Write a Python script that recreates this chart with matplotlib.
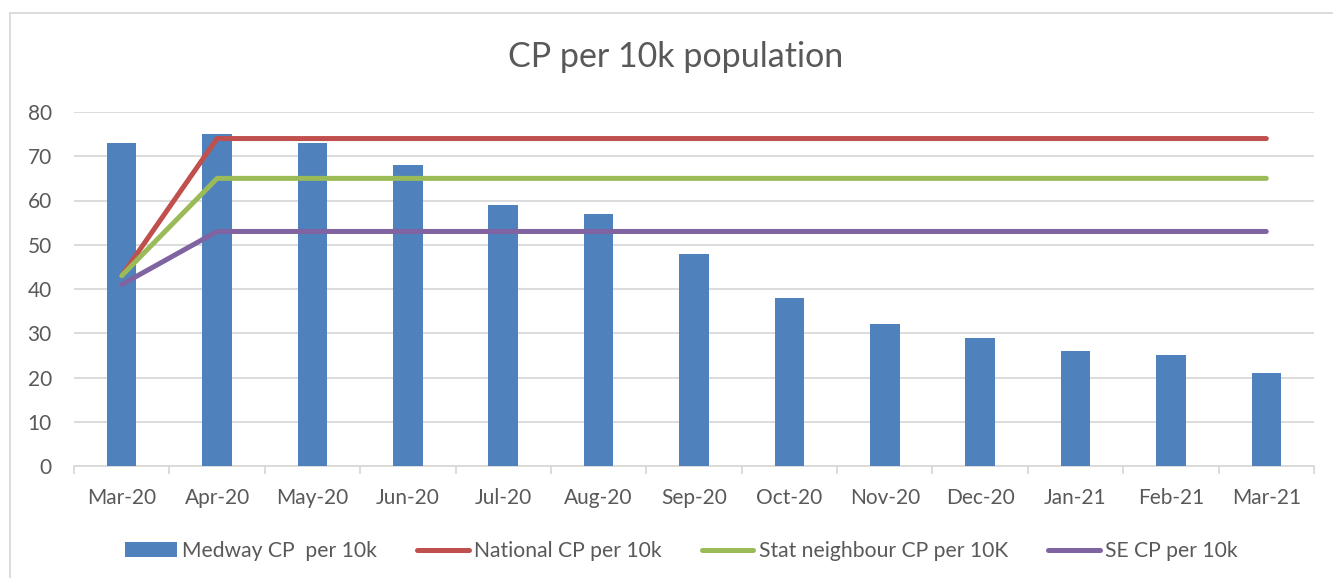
import matplotlib
matplotlib.use("Agg")
import matplotlib.pyplot as plt
from matplotlib.lines import Line2D
import numpy as np

months = ["Mar-20", "Apr-20", "May-20", "Jun-20", "Jul-20", "Aug-20", "Sep-20",
          "Oct-20", "Nov-20", "Dec-20", "Jan-21", "Feb-21", "Mar-21"]
medway = [73, 75, 73, 68, 59, 57, 48, 38, 32, 29, 26, 25, 21]
national = [43, 74, 74, 74, 74, 74, 74, 74, 74, 74, 74, 74, 74]
stat_neighbour = [43, 65, 65, 65, 65, 65, 65, 65, 65, 65, 65, 65, 65]
south_east = [41, 53, 53, 53, 53, 53, 53, 53, 53, 53, 53, 53, 53]
yticks = [0, 10, 20, 30, 40, 50, 60, 70, 80]

plt.rcParams['font.family'] = ['Lato', 'DejaVu Sans']
txt = '#595959'
grid = '#d9d9d9'

fig = plt.figure(figsize=(13.33, 5.78), dpi=100)
ax = fig.add_axes([74/1333, 1-466/578, (1314-74)/1333, (466-112)/578])

x = np.arange(len(months))
b = ax.bar(x, medway, width=0.31, color='#4F81BD', label='Medway CP  per 10k', zorder=2)
lw = 3.6
kw = dict(lw=lw, solid_capstyle='round', solid_joinstyle='round', zorder=3)
l1, = ax.plot(x, national, color='#C0504D', label='National CP per 10k', **kw)
l2, = ax.plot(x, stat_neighbour, color='#9BBB59', label='Stat neighbour CP per 10K', **kw)
l3, = ax.plot(x, south_east, color='#8064A2', label='SE CP per 10k', **kw)

ax.set_xlim(-0.5, len(months) - 0.5)
ax.set_ylim(0, 80)
ax.set_yticks(yticks)
ax.yaxis.grid(True, color=grid, lw=1.3, zorder=0)
ax.set_axisbelow(True)
for s in ['top', 'right', 'left']:
    ax.spines[s].set_visible(False)
ax.spines['bottom'].set_color(grid)
ax.spines['bottom'].set_linewidth(1.3)
ax.spines['bottom'].set_zorder(1)

ax.set_xticks(x)
ax.set_xticklabels(months)
ax.set_xticks(np.arange(-0.5, len(months), 1.0), minor=True)
ax.tick_params(axis='x', which='major', length=0, pad=16, labelsize=15, labelcolor=txt)
ax.tick_params(axis='x', which='minor', length=6, width=1.3, color=grid, direction='out')
ax.tick_params(axis='y', length=0, pad=16, labelsize=15, labelcolor=txt)

fig.text(0.507, 1-57/578, 'CP per 10k population', ha='center', va='center', fontsize=24.5, color=txt)

fig.legend(handles=[b, l1, l2, l3], loc='center', bbox_to_anchor=(0.511, 1-551/578), ncol=4, frameon=False,
           fontsize=15.2, labelcolor=txt, handlelength=2.45, handletextpad=0.25,
           columnspacing=1.9, handleheight=0.7)

fig.add_artist(Line2D([10/1333, 10/1333], [0, 1-13/578], transform=fig.transFigure, color=grid, lw=1.3))
fig.add_artist(Line2D([10/1333, 1], [1-13/578, 1-13/578], transform=fig.transFigure, color=grid, lw=1.3))

fig.savefig('out.png', dpi=100)
